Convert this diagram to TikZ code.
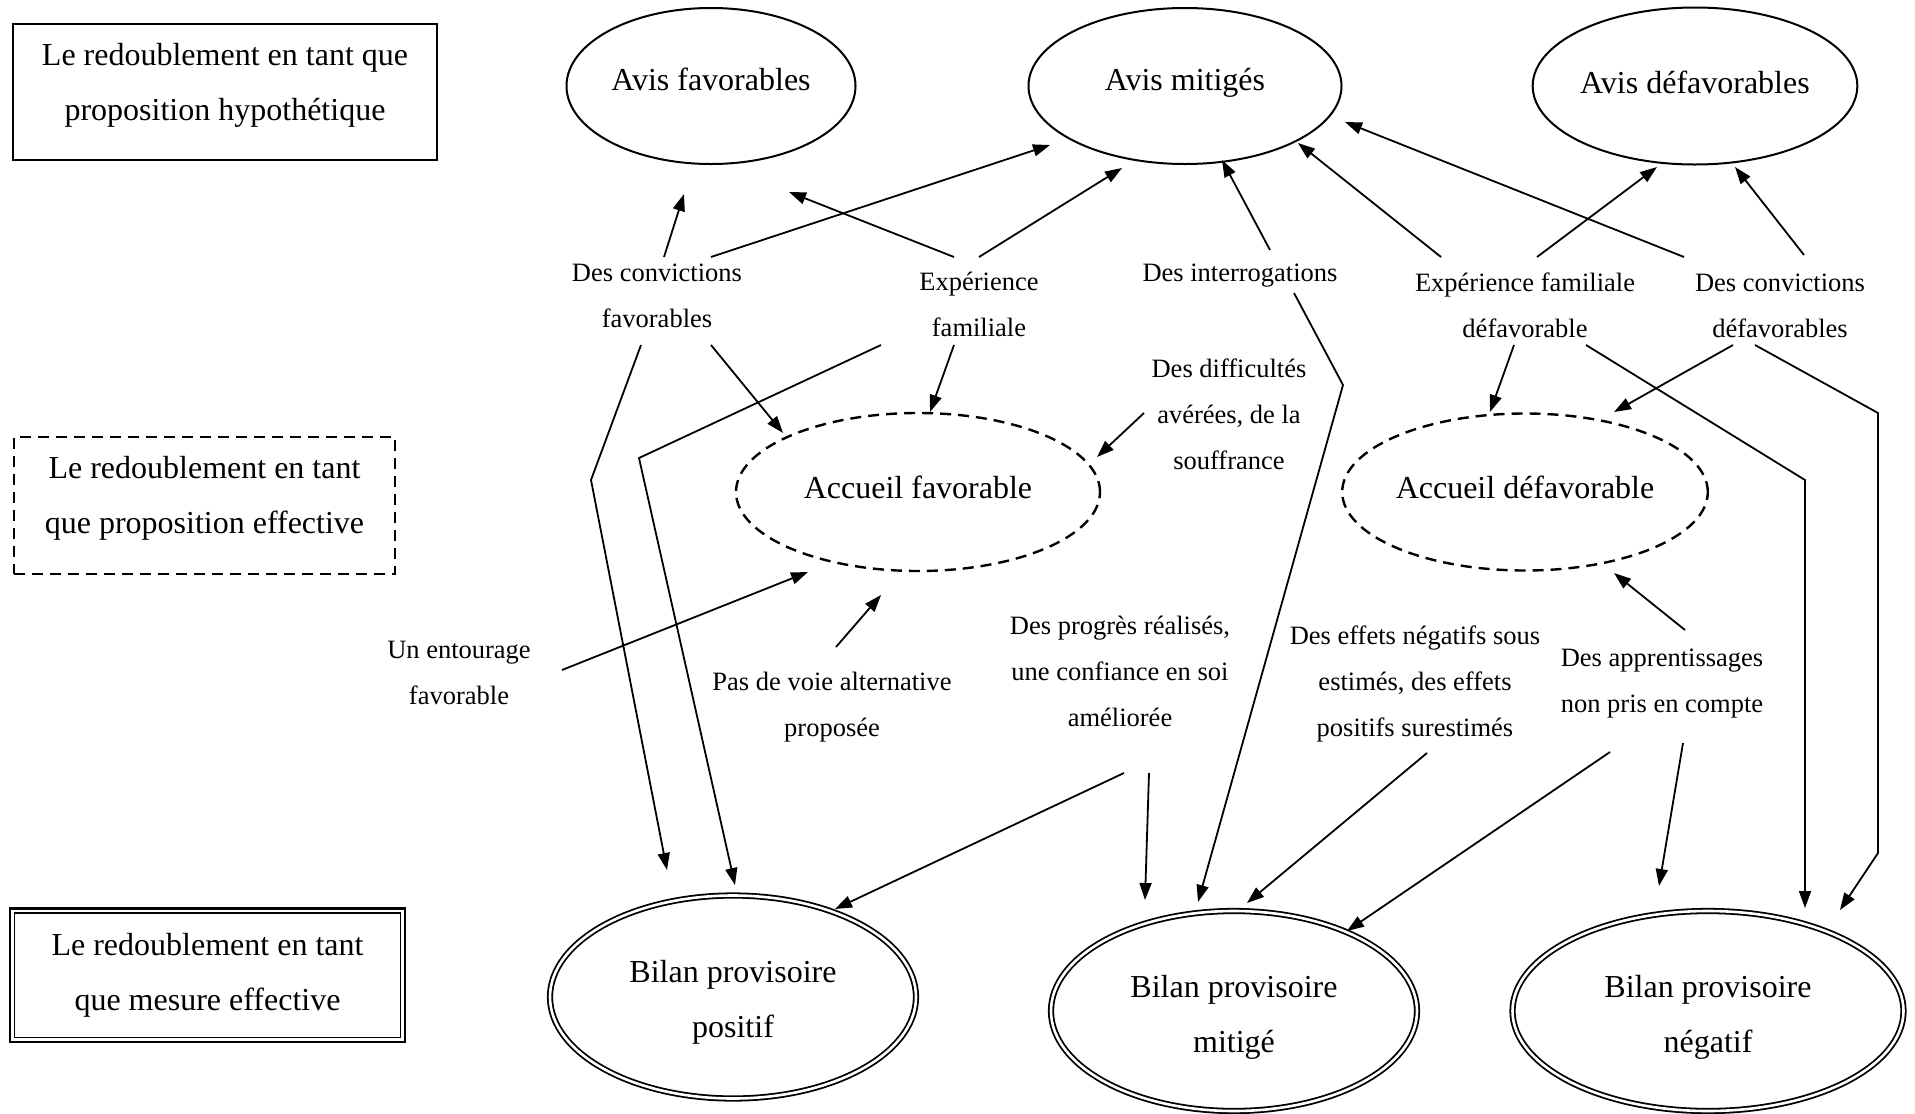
\documentclass[tikz,border=0pt]{standalone}
\usepackage{fontspec}
\setmainfont{Liberation Serif}
\usetikzlibrary{shapes.geometric,arrows.meta,calc}
\begin{document}
\begin{tikzpicture}[x=1bp,y=-1bp,
  big/.style={font=\fontsize{32bp}{55bp}\selectfont, align=center, inner sep=0pt},
  small/.style={font=\fontsize{26.5bp}{46bp}\selectfont, align=center, inner sep=0pt, text height=0pt, text depth=0pt},
  oval/.style={ellipse, draw, line width=2bp, big},
  dashoval/.style={oval, dash pattern=on 11bp off 7bp, line width=2.4bp},
  dbloval/.style={oval, double, line width=1.8bp, double distance=2.6bp},
  box/.style={rectangle, draw, line width=2bp, big},
  arr/.style={-{Triangle[length=17bp,width=12bp]}, line width=1.8bp},
  seg/.style={line width=1.8bp}
]
\useasboundingbox (0,0) rectangle (1915,1113);

% level boxes
\node[box, minimum width=423bp, minimum height=136bp, text height=64.2bp, text depth=7bp] (box1) at (225,92) {Le redoublement en tant que\\proposition hypothétique};
\node[box, dash pattern=on 11bp off 7bp, line width=2.4bp, minimum width=381bp, minimum height=137bp, text height=63.2bp, text depth=7bp] (box2) at (204.5,505.5) {Le redoublement en tant\\que proposition effective};
\node[box, line width=2.6bp, minimum width=394.6bp, minimum height=133.6bp, text height=78.2bp, text depth=7bp] (box3) at (207.5,975) {Le redoublement en tant\\que mesure effective};
\draw[line width=1.2bp] ($(box3.north west)+(6,6)$) rectangle ($(box3.south east)+(-6,-6)$);

% top ellipses
\node[oval, minimum width=289bp, minimum height=156bp, text height=16.2bp, text depth=7bp] (avisfav) at (711,86) {Avis favorables};
\node[oval, minimum width=313bp, minimum height=156bp, text height=16.2bp, text depth=7bp] (avismit) at (1185,86) {Avis mitigés};
\node[oval, minimum width=315bp, minimum height=157bp, text height=21.2bp, text depth=7bp] (avisdef) at (1695,86) {Avis défavorables};

% middle ellipses
\node[dashoval, minimum width=364bp, minimum height=158bp, text height=20.2bp, text depth=7bp] (accfav) at (918,492) {Accueil favorable};
\node[dashoval, minimum width=364bp, minimum height=157bp, text height=19.2bp, text depth=7bp] (accdef) at (1525,492) {Accueil défavorable};

% bottom ellipses
\node[dbloval, minimum width=366bp, minimum height=203bp, text height=87.2bp, text depth=7bp] (bilpos) at (733,997) {Bilan provisoire\\positif};
\node[dbloval, minimum width=366bp, minimum height=200bp, text height=90.2bp, text depth=7bp] (bilmit) at (1234,1011) {Bilan provisoire\\mitigé};
\node[dbloval, minimum width=391bp, minimum height=200bp, text height=90.2bp, text depth=7bp] (bilneg) at (1708,1011) {Bilan provisoire\\négatif};

% labels (node placed at baseline of last line)
\node[small] (convfav) at (657,327) {Des convictions\\favorables};
\node[small] (expfam) at (979,336) {Expérience\\familiale};
\node[small] (interr) at (1240,281) {Des interrogations};
\node[small] (expdef) at (1525,337) {Expérience familiale\\défavorable};
\node[small] (convdef) at (1780,337) {Des convictions\\défavorables};
\node[small] (diff) at (1229,469) {Des difficultés\\avérées, de la\\souffrance};
\node[small] (entour) at (459,704) {Un entourage\\favorable};
\node[small] (pasvoie) at (832,736) {Pas de voie alternative\\proposée};
\node[small] (progres) at (1120,726) {Des progrès réalisés,\\une confiance en soi\\améliorée};
\node[small] (effets) at (1415,736) {Des effets négatifs sous\\estimés, des effets\\positifs surestimés};
\node[small] (apprent) at (1662,712) {Des apprentissages\\non pris en compte};

% arrows to top ellipses
\draw[arr] ($(convfav)+(7,-70)$) -- ($(avisfav)+(-27,108)$);
\draw[arr] ($(convfav)+(54,-70)$) -- ($(avismit)+(-135,59)$);
\draw[arr] ($(expfam)+(-25,-79)$) -- ($(avisfav)+(78,106)$);
\draw[arr] ($(expfam)+(0,-79)$) -- ($(avismit)+(-63,82)$);
\draw[arr] ($(interr)+(30,-31)$) -- ($(avismit)+(37,74)$);
\draw[arr] ($(expdef)+(-84,-80)$) -- ($(avismit)+(113,57)$);
\draw[arr] ($(convdef)+(-96,-80)$) -- ($(avismit)+(160,36)$);
\draw[arr] ($(expdef)+(12,-80)$) -- ($(avisdef)+(-38,81)$);
\draw[arr] ($(convdef)+(24,-82)$) -- ($(avisdef)+(40,81)$);

% arrows to middle ellipses
\draw[arr] ($(convfav)+(54,18)$) -- ($(accfav)+(-135,-59)$);
\draw[arr] ($(expfam)+(-25,9)$) -- ($(accfav)+(12,-80)$);
\draw[arr] ($(diff)+(-85,-56)$) -- ($(accfav)+(179,-35)$);
\draw[arr] ($(entour)+(103,-34)$) -- ($(accfav)+(-110,80)$);
\draw[arr] ($(pasvoie)+(4,-89)$) -- ($(accfav)+(-37,103)$);
\draw[arr] ($(expdef)+(-11,8)$) -- ($(accdef)+(-35,-80)$);
\draw[arr] ($(convdef)+(-47,8)$) -- ($(accdef)+(89,-80)$);
\draw[arr] ($(apprent)+(23,-82)$) -- ($(accdef)+(89,81)$);

% long arrows to bottom ellipses
\draw[arr] ($(convfav)+(-16,18)$) -- (591,480) -- ($(bilpos)+(-66,-127)$);
\draw[arr] ($(expfam)+(-98,9)$) -- (639,458) -- ($(bilpos)+(2,-112)$);
\draw[arr] ($(interr)+(54,12)$) -- (1343,385) -- ($(bilmit)+(-36,-109)$);
\draw[arr] ($(expdef)+(61,8)$) -- (1805,480) -- ($(bilneg)+(97,-103)$);
\draw[arr] ($(convdef)+(-25,8)$) -- (1878,413) -- (1878,853) -- ($(bilneg)+(132,-101)$);

% arrows from lower labels
\draw[arr] ($(progres)+(4,47)$) -- ($(bilpos)+(102,-88)$);
\draw[arr] ($(progres)+(29,47)$) -- ($(bilmit)+(-89,-111)$);
\draw[arr] ($(effets)+(12,17)$) -- ($(bilmit)+(13,-108)$);
\draw[arr] ($(apprent)+(-52,40)$) -- ($(bilmit)+(113,-80)$);
\draw[arr] ($(apprent)+(21,31)$) -- ($(bilneg)+(-49,-125)$);
\end{tikzpicture}
\end{document}
